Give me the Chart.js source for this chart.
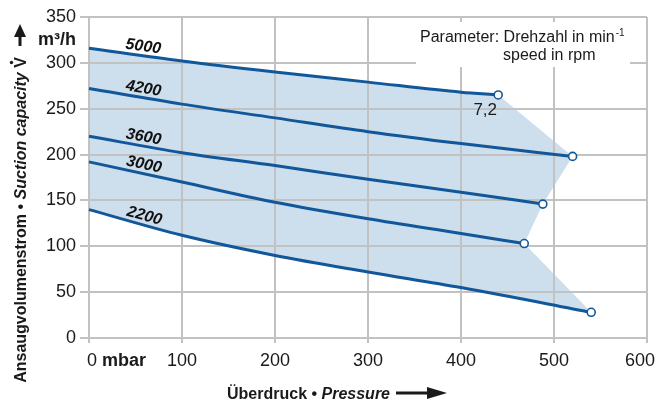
<!DOCTYPE html>
<html><head><meta charset="utf-8">
<script src="https://cdn.jsdelivr.net/npm/chart.js@4.4.1/dist/chart.umd.min.js"></script>
<style>html,body{margin:0;padding:0;background:#fff;overflow:hidden}#wrap{width:656px;height:403px;position:relative}</style>
</head><body><div id="wrap"><canvas id="c"></canvas></div>
<script>
// ---- data ----
const speeds = ['5000', '4200', '3600', '3000', '2200'];
const p5000 = [0, 100, 200, 300, 400, 440];
const q5000 = [316, 302, 290, 279, 268, 265];
const p4200 = [0, 100, 200, 300, 400, 520];
const q4200 = [272, 255, 240, 225, 212, 198];
const p3600 = [0, 100, 200, 300, 400, 488];
const q3600 = [220, 202, 188, 173, 159, 146];
const p3000 = [0, 100, 200, 300, 400, 468];
const q3000 = [192, 170, 148, 130, 114, 103];
const p2200 = [0, 100, 200, 300, 400, 540];
const q2200 = [140, 112, 90, 72, 55, 28];
const xTicks = [0, 100, 200, 300, 400, 500, 600];
const yTicks = [0, 50, 100, 150, 200, 250, 300, 350];
const endNote = '7,2';

// ---- styles ----
const BLUE = '#11579a';
const FILL = '#cddeed';
const GRID = '#c2c2c2';
const TEXT = '#1a1a1a';
const FAM = '"Liberation Sans", Arial, Helvetica, sans-serif';
Chart.defaults.font.family = FAM;

const series = [[p5000, q5000], [p4200, q4200], [p3600, q3600], [p3000, q3000], [p2200, q2200]];
const toPts = s => s[0].map((x, i) => ({x: x, y: s[1][i]}));
const lastPt = s => ({x: s[0][s[0].length - 1], y: s[1][s[1].length - 1]});
const envelope = [
  ...toPts(series[0]),
  ...series.slice(1, 4).map(lastPt),
  ...toPts(series[4]).reverse()
];

const lineSets = series.map((s, i) => ({
  label: speeds[i],
  data: toPts(s),
  borderColor: BLUE,
  borderWidth: 3,
  fill: false,
  cubicInterpolationMode: 'monotone',
  pointRadius: c => c.dataIndex === s[0].length - 1 ? 4 : 0,
  pointBackgroundColor: '#ffffff',
  pointBorderColor: BLUE,
  pointBorderWidth: 1.6,
  clip: false
}));
const fillSet = {
  label: 'area',
  data: envelope,
  fill: 'shape',
  backgroundColor: FILL,
  borderWidth: 0,
  borderColor: 'rgba(0,0,0,0)',
  pointRadius: 0,
  tension: 0
};

function runs(ctx, parts, x, y) {
  let cx = x;
  for (const p of parts) {
    ctx.font = p.font;
    ctx.fillText(p.text, cx, y);
    cx += ctx.measureText(p.text).width;
  }
  return cx;
}
function runsWidth(ctx, parts) {
  let w = 0;
  for (const p of parts) { ctx.font = p.font; w += ctx.measureText(p.text).width; }
  return w;
}

const decor = {
  id: 'decor',
  beforeDatasetsDraw(chart) {
    const ctx = chart.ctx;
    ctx.save();
    ctx.fillStyle = '#ffffff';
    ctx.fillRect(416, 22, 214, 45);
    ctx.restore();
  },
  afterDatasetsDraw(chart) {
    const ctx = chart.ctx;
    const xs = chart.scales.x;
    ctx.save();
    ctx.fillStyle = '#111';
    ctx.font = 'italic bold 16px ' + FAM;
    ctx.textAlign = 'center';
    ctx.textBaseline = 'middle';
    const px = xs.getPixelForValue(57);
    for (let i = 0; i < speeds.length; i++) {
      const el = chart.getDatasetMeta(i).dataset;
      const a = el.interpolate({x: px - 6}, 'x');
      const b = el.interpolate({x: px + 6}, 'x');
      const ang = Math.atan2(b.y - a.y, b.x - a.x);
      const mx = (a.x + b.x) / 2, my = (a.y + b.y) / 2;
      const off = 9;
      ctx.save();
      ctx.translate(mx + off * Math.sin(ang), my - off * Math.cos(ang));
      ctx.rotate(ang);
      ctx.fillText(speeds[i], 0, 0);
      ctx.restore();
    }
    // end-point note of the top curve
    const m0 = chart.getDatasetMeta(0).data;
    const e = m0[m0.length - 1];
    ctx.font = '17px ' + FAM;
    ctx.fillStyle = TEXT;
    ctx.fillText(endNote, e.x - 13, e.y + 15);
    ctx.restore();
  },
  afterDraw(chart) {
    const ctx = chart.ctx;
    const xs = chart.scales.x, ys = chart.scales.y;
    ctx.save();
    ctx.fillStyle = TEXT;
    ctx.strokeStyle = TEXT;
    // legend text
    ctx.textBaseline = 'middle';
    ctx.textAlign = 'left';
    const e1 = runs(ctx, [{text: 'Parameter: Drehzahl in min', font: '16px ' + FAM}], 420, 38);
    ctx.font = '10px ' + FAM;
    ctx.fillText('-1', e1 + 1, 33);
    ctx.font = '16px ' + FAM;
    ctx.fillText('speed in rpm', 503, 56);

    // x tick labels at the ends
    const ty = 361;
    runs(ctx, [{text: '0 ', font: '18px ' + FAM}, {text: 'mbar', font: 'bold 18px ' + FAM}], xs.getPixelForValue(0) - 2, ty);
    ctx.font = '18px ' + FAM;
    ctx.textAlign = 'right';
    ctx.fillText(String(xTicks[xTicks.length - 1]), 655, ty);

    // unit on y axis
    ctx.font = 'bold 18px ' + FAM;
    ctx.fillText('m³/h', 76, 40);

    // x axis title
    ctx.textAlign = 'left';
    ctx.textBaseline = 'alphabetic';
    const xt = [{text: 'Überdruck • ', font: 'bold 16px ' + FAM}, {text: 'Pressure', font: 'italic bold 16px ' + FAM}];
    runs(ctx, xt, 227, 399);
    ctx.lineWidth = 3;
    ctx.beginPath(); ctx.moveTo(396, 393); ctx.lineTo(430, 393); ctx.stroke();
    ctx.beginPath(); ctx.moveTo(447, 393); ctx.lineTo(427, 387); ctx.lineTo(427, 399); ctx.closePath(); ctx.fill();

    // y axis title
    const yt = [{text: 'Ansaugvolumenstrom • ', font: 'bold 16px ' + FAM}, {text: 'Suction capacity', font: 'italic bold 16px ' + FAM}, {text: ' ', font: 'bold 16px ' + FAM}];
    ctx.font = 'bold 16px ' + FAM;
    const wV = ctx.measureText('V').width;
    const tot = runsWidth(ctx, yt) + wV;
    const mid = 220;
    ctx.save();
    ctx.translate(26, mid + tot / 2);
    ctx.rotate(-Math.PI / 2);
    const endX = runs(ctx, yt, 0, 0);
    ctx.font = 'bold 16px ' + FAM;
    ctx.fillText('V', endX, 0);
    ctx.beginPath(); ctx.arc(endX + wV / 2, -14.5, 1.7, 0, Math.PI * 2); ctx.fill();
    ctx.restore();
    // y arrow
    ctx.beginPath(); ctx.moveTo(20, 46); ctx.lineTo(20, 32); ctx.stroke();
    ctx.beginPath(); ctx.moveTo(20, 24); ctx.lineTo(14, 37); ctx.lineTo(26, 37); ctx.closePath(); ctx.fill();
    ctx.restore();
  }
};

new Chart(document.getElementById('c'), {
  type: 'line',
  data: {datasets: [...lineSets, fillSet]},
  options: {
    responsive: true,
    maintainAspectRatio: false,
    animation: false,
    layout: {padding: {top: 17, right: 9, left: 0, bottom: 0}},
    plugins: {legend: {display: false}, tooltip: {enabled: false}, filler: {drawTime: 'beforeDraw'}},
    scales: {
      x: {
        type: 'linear', min: 0, max: 600,
        afterBuildTicks: s => { s.ticks = xTicks.map(v => ({value: v})); },
        grid: {color: GRID, lineWidth: 2, tickLength: 5},
        border: {color: GRID, width: 2},
        ticks: {font: {size: 18}, color: TEXT, padding: 7, maxRotation: 0, autoSkip: false,
          callback: v => (v === xTicks[0] || v === xTicks[xTicks.length - 1]) ? '' : String(v)},
        afterFit: s => { s.height = 65; s.paddingLeft = 0; s.paddingRight = 0; }
      },
      y: {
        type: 'linear', min: 0, max: 350,
        afterBuildTicks: s => { s.ticks = yTicks.map(v => ({value: v})); },
        grid: {color: GRID, lineWidth: 2, tickLength: 9},
        border: {color: GRID, width: 2},
        ticks: {font: {size: 18}, color: TEXT, padding: 4},
        afterFit: s => { s.width = 89; }
      }
    }
  },
  plugins: [decor]
});
</script>
</body></html>
